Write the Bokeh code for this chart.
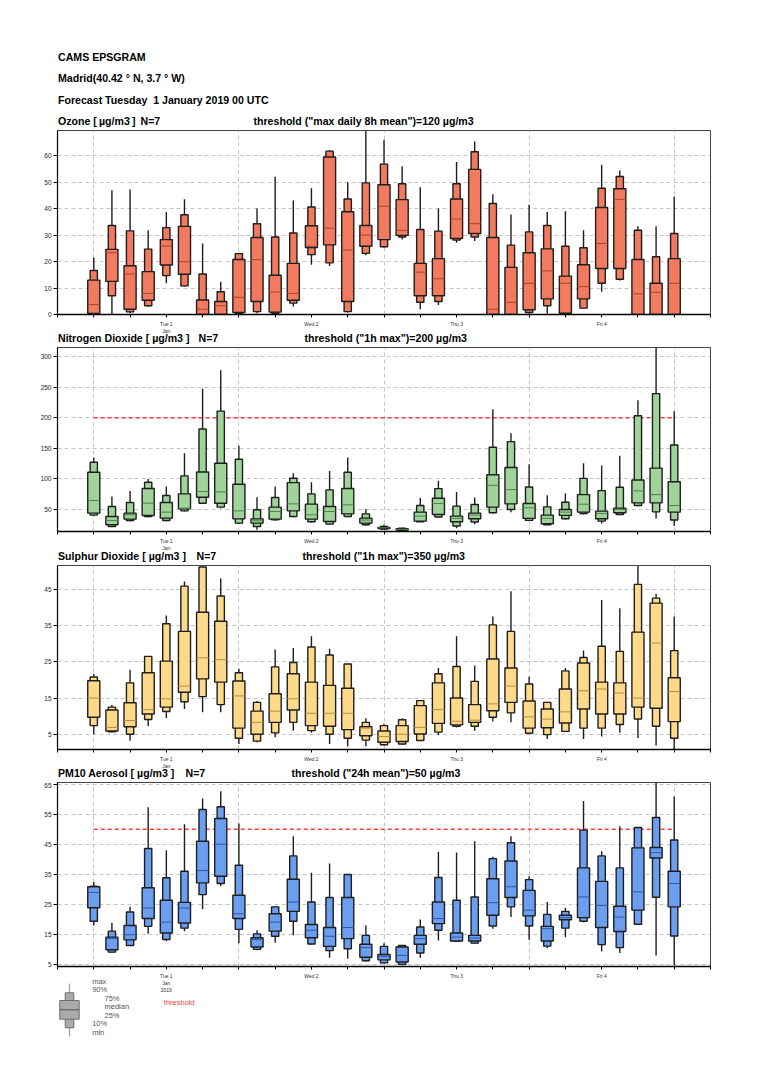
from bokeh.plotting import figure
from bokeh.layouts import column
from bokeh.models import Range1d, FixedTicker, ColumnDataSource
from bokeh.core.properties import value
from bokeh.embed import file_html
from bokeh.resources import INLINE

# ---------------- data (forecast step in hours from Tue 1 Jan 2019 00 UTC) -------------
hours = [0, 3, 6, 9, 12, 15, 18, 21, 24, 27, 30, 33, 36, 39, 42, 45, 48,
         51, 54, 57, 60, 63, 66, 69, 72, 75, 78, 81, 84, 87, 90, 93, 96]

day_ticks = [12, 36, 60, 84]
day_names = ["Tue 1", "Wed 2", "Thu 3", "Fri 4"]
month_label = "Jan"
year_label = "2019"

# Ozone
o3_min = [0, 0, 0.5, 3.0, 11.8, 10.5, 0, 0, 0, 0.5, 0.1, 3.0, 18.8, 18.3, 0.75, 22.4, 25.3,
          28.3, 2.0, 3.6, 27.1, 27.8, 0, 0, 0.25, 0.25, 0, 2.4, 8.6, 12.8, 0, 0, 0]
o3_p10 = [0.2, 7.1, 1.0, 3.3, 14.7, 10.8, 0, 0, 0.5, 1.1, 0.5, 4.3, 22.6, 19.5, 1.1, 23.1, 25.6,
          29.3, 4.6, 4.9, 28.1, 29.3, 0, 0, 0.75, 3.3, 0.2, 2.4, 11.8, 13.3, 0, 0, 0]
o3_p25 = [0.4, 12.5, 2.0, 5.4, 18.7, 15.2, 0, 0, 0.75, 4.9, 0.9, 5.4, 25.3, 26.3, 4.9, 25.8, 28.3,
          29.9, 7.1, 7.1, 28.7, 30.6, 0, 0, 1.8, 5.9, 0.5, 5.9, 17.4, 17.4, 0, 0, 0]
o3_med = [3.8, 23.3, 15.3, 8.0, 25.9, 19.9, 2.0, 3.3, 6.5, 20.7, 8.5, 8.0, 25.8, 32.6, 24.3, 30.0, 40.9,
          31.8, 16.0, 13.5, 36.1, 34.3, 2.0, 4.6, 11.8, 16.5, 11.8, 10.5, 26.8, 43.5, 7.8, 8.4, 11.8]
o3_p75 = [13.0, 24.6, 18.4, 16.2, 28.3, 33.3, 5.5, 4.9, 20.8, 29.1, 14.8, 19.3, 33.5, 59.5, 38.8, 33.6, 49.0,
          43.4, 19.3, 21.1, 43.6, 54.8, 29.1, 17.8, 23.3, 24.8, 14.5, 18.8, 40.4, 47.5, 20.8, 11.8, 21.1]
o3_p90 = [16.6, 33.6, 31.6, 24.7, 32.8, 37.7, 15.3, 8.6, 23.0, 34.3, 29.3, 30.8, 40.6, 61.7, 43.6, 49.7, 56.8,
          49.4, 32.1, 31.5, 49.4, 61.5, 41.9, 26.2, 31.2, 33.6, 25.8, 25.2, 47.7, 52.1, 31.8, 21.8, 30.6]
o3_max = [21.5, 46.9, 47.2, 31.8, 38.7, 43.5, 26.8, 12.4, 23.3, 40.0, 52.0, 43.1, 47.7, 62.0, 50.0, 69.4, 66.0,
          56.0, 48.1, 40.0, 57.6, 65.3, 45.4, 37.8, 41.5, 38.7, 39.0, 31.8, 56.6, 54.4, 33.3, 33.3, 44.6]

# Nitrogen dioxide
no2_min = [39, 20.5, 30.3, 36.9, 30.3, 46.1, 59.8, 51.6, 26, 16.1, 31.4, 36.9, 28, 24.3, 36.9, 23.2, 16.7,
           14, 28.8, 35.9, 18.5, 25, 42.9, 45, 30.4, 23.4, 33.1, 41.3, 26.6, 40.2, 54.9, 34.8, 22.3]
no2_p10 = [40.2, 21.6, 31.4, 38.0, 31.4, 47.2, 59.8, 53.3, 27, 21.6, 32.5, 38, 29.2, 25.4, 38, 24.3, 17.2,
           14.7, 29.3, 37, 22.3, 28.8, 44, 49.4, 31.5, 24.4, 34.2, 42.9, 30.4, 41.3, 56, 45.6, 32.1]
no2_p25 = [43.4, 24.3, 33.6, 39.6, 35.2, 50.5, 69.6, 59.8, 34.1, 27, 33.6, 47.2, 33.6, 29.8, 42.3, 27, 18.3,
           15.7, 30.4, 41.3, 29.3, 34.2, 53.3, 58.7, 34.8, 26.1, 39.7, 45.1, 34.2, 44, 60.3, 60.3, 45.1]
no2_med = [64.2, 31.4, 40.7, 59.8, 45.1, 51.6, 78.9, 78.4, 47.2, 30.9, 46.1, 58.7, 40.7, 46.1, 57.1, 32, 19.4,
           16.8, 38.6, 59.2, 34.8, 40.2, 89.1, 82.1, 52.2, 34.8, 45.1, 58.1, 42.9, 49.5, 79.9, 73.9, 56]
no2_p75 = [110.6, 38.0, 43.4, 83.8, 60.9, 75.1, 111.1, 125.3, 91, 34.1, 53.3, 93.6, 58.2, 54.3, 83.8, 35.2, 19.9,
           18, 45.1, 67.9, 38.6, 43.5, 106.5, 118.5, 59.2, 40.2, 49.5, 73.9, 46.7, 51.6, 97.8, 117.4, 95.1]
no2_p90 = [127, 54.3, 60.9, 94.2, 72.4, 104.6, 181.5, 211, 131.9, 48.9, 69, 100.8, 75.1, 81.7, 110.6, 42.3, 21.6,
           18.8, 56, 83.7, 54.9, 57.6, 151.6, 160.9, 86.4, 53.8, 61.4, 100.5, 80.4, 85.9, 203.3, 239.7, 155.4]
no2_max = [134.6, 70.7, 80, 99.7, 87.1, 141.7, 248.1, 278.2, 154.2, 69.6, 87.1, 108.9, 94.2, 112.8, 134.6, 50, 24.3,
           19.6, 68.5, 96.7, 78.3, 69.1, 214.1, 174.5, 123.9, 72.8, 75.5, 125.5, 121.7, 137.5, 228.8, 315, 210.9]

# Sulphur dioxide
so2_min = [5, 5.6, 3.2, 7.2, 9.4, 12, 11.1, 11.1, 2.3, 2.8, 4.2, 6, 5.4, 2.3, 1.6, 1.7, 1.9,
           2.1, 3.2, 4.8, 6.9, 6, 8.5, 8.3, 5.1, 3.7, 5.7, 3.7, 4.4, 5.4, 4, 1.9, 0.8]
so2_p10 = [7.4, 5.7, 5, 9.1, 11.3, 14, 15.4, 13.2, 3.9, 3.1, 5.4, 8.3, 6, 5, 3.9, 3.4, 2.1,
           2.3, 3.3, 5.6, 7.2, 7.2, 9.7, 10.9, 5.3, 4.9, 5.8, 6.7, 6.7, 7.7, 9.2, 7.2, 3.9]
so2_p25 = [9.7, 5.9, 7.1, 10.6, 12.5, 16.6, 20.3, 19.4, 6.7, 5, 8.3, 11.7, 7.4, 7.2, 6.3, 4.6, 2.8,
           3, 5.1, 8, 7.6, 8.3, 11.5, 13.8, 6.7, 6.8, 8.1, 12, 10.6, 10.6, 12.5, 12.2, 8.5]
so2_med = [15, 6.9, 8.8, 11.8, 14.8, 18.3, 26.1, 25.6, 15.6, 8.3, 11.4, 14.8, 10.8, 10.8, 10.8, 6.7, 4.4,
           5, 6.9, 11.8, 8.6, 8.9, 13.4, 18.3, 9.8, 9.2, 11.2, 17, 17.5, 16.4, 15, 30.2, 16.8]
so2_p75 = [19.8, 11.7, 13.7, 22, 25.2, 33.4, 38.7, 36.2, 19.7, 11.4, 16.2, 21.7, 19.4, 18.5, 17.7, 7.1, 5.9,
           7.4, 12.9, 19.2, 15, 13.2, 25.8, 23.3, 14.2, 12, 17.5, 24.7, 19.4, 19.2, 33.2, 41.2, 20.6]
so2_p90 = [20.8, 12.5, 19.2, 26.5, 35.5, 45.9, 51.2, 43.2, 22, 13.8, 23.6, 24.8, 29.1, 26.9, 24.4, 8.3, 7.4,
           9, 14.3, 21.7, 23.7, 19.6, 35.2, 33.4, 18.9, 13.8, 22.5, 26.2, 29.3, 27.9, 46.4, 42.6, 28.1]
so2_max = [21.7, 13.1, 22.8, 26.6, 37.8, 47.2, 51.3, 48, 23.1, 14.2, 28.4, 28.8, 32.1, 28.6, 24.5, 9.4, 7.9,
           9.4, 14.5, 23.3, 32.1, 24, 37.5, 44.5, 20.9, 13.9, 23.3, 28.1, 42.1, 39.8, 51.6, 43.8, 37.5]

# PM10 aerosol
pm_min = [17.9, 8.7, 11, 15.1, 12.6, 16, 23.3, 31.1, 12, 9.6, 12.1, 14.6, 11.5, 7.1, 6.8, 5.9, 5.1,
          4.6, 7.1, 12.9, 12.6, 11.8, 16.8, 20.7, 13.1, 10.4, 14, 19, 9.2, 8.7, 18.3, 7.9, 4.6]
pm_p10 = [19.3, 9, 11.2, 17.6, 13.2, 17, 28.2, 31.9, 16.6, 9.9, 14.3, 19.3, 11.7, 9.5, 10.1, 6.1, 5.4,
          4.9, 8.7, 16.3, 12.7, 12, 17.7, 24.1, 17.7, 11, 17, 19.3, 11.5, 10.5, 18.3, 27.3, 14.4]
pm_p25 = [23.8, 9.8, 13.1, 20.2, 15.4, 18.7, 32.1, 34.3, 20.2, 10.7, 16, 22.6, 13.8, 10.9, 13.5, 7.3, 6.4,
          5.7, 11.6, 18.5, 12.7, 12.7, 21.3, 27.2, 21.1, 12.7, 19.8, 20.5, 17.2, 15.9, 23, 40.4, 24.1]
pm_med = [28.9, 13.5, 14.8, 23.7, 19, 23.7, 36.2, 45, 21.8, 13.2, 19, 25.7, 16.3, 14.3, 17.2, 10.5, 7.6,
          7.9, 13.5, 20.2, 14, 13.7, 25.5, 30.8, 23, 16.8, 20.5, 27.4, 24.6, 20.7, 29.1, 42.2, 31.9]
pm_p75 = [30.8, 14, 17.9, 30.5, 26.3, 25.6, 46, 53.6, 28, 13.8, 21.8, 33.3, 18.2, 17.2, 27.2, 11.6, 8.2,
          10.7, 14.6, 25.7, 15.4, 14.6, 33.5, 39.4, 29.6, 17.6, 21.3, 37.1, 32.6, 24.3, 43.8, 43.9, 36]
pm_p90 = [31, 16, 22.4, 43.6, 33.8, 36, 56.6, 57.5, 38, 15.1, 24.1, 41.1, 25.7, 27.2, 34.9, 14.6, 10.9,
          11.2, 17.4, 33.9, 26.3, 27.4, 40.2, 45.5, 33.2, 21.6, 22.6, 49.7, 41.1, 37.1, 50.6, 53.9, 46.4]
pm_max = [32.4, 18.8, 24.1, 57.3, 43, 51.7, 60.3, 62.7, 51.9, 16.3, 24.2, 47.7, 35.5, 38.6, 35, 17.9, 12,
          11.3, 19.9, 42.5, 42.2, 46, 40.8, 47.7, 34.3, 25.7, 23.8, 59.4, 42.7, 51, 50.7, 65.6, 60.9]

# ---------------- layout constants (page pixels) ----------------
FONT = "Liberation Sans"
W = 720
FRAME_L, FRAME_R = 57, 710
X0, X1 = -6, 102
FH = 184          # frame height of each panel
BB = 4            # bottom border of a panel (tick marks only)
TEXT_L = 57.5     # left edge of the title texts
TS = "\u2009"     # thin space
NB = "\u00a0"     # no-break space


def px2h(px):
    return X0 + (px - FRAME_L) * (X1 - X0) / (FRAME_R - FRAME_L)


def strip(top, bottom):
    s = figure(width=W, height=bottom - top, x_range=Range1d(X0, X1),
               y_range=Range1d(bottom, top), output_backend="svg", toolbar_location=None,
               title_location=None, x_axis_location=None, y_axis_location=None,
               min_border_left=FRAME_L, min_border_right=W - FRAME_R, min_border_top=0,
               min_border_bottom=0)
    s.outline_line_color = None
    s.grid.visible = False
    s.background_fill_color = "white"
    s.border_fill_color = "white"
    return s


def bold_text(s, xs, ys, texts):
    s.text(x=[px2h(x) for x in xs], y=ys, text=texts, text_font=value(FONT),
           text_font_size="10.6px", text_font_style="bold", text_color="black",
           text_baseline="middle", text_align="left")


def day_text(s, frame_bottom, with_year=False):
    s.text(x=day_ticks, y=[frame_bottom + 9.3] * 4, text=day_names, text_font=value(FONT),
           text_font_size="5px", text_color="#333333", text_baseline="middle",
           text_align="center")
    extra = [(month_label, 16.2)] + ([(year_label, 23.8)] if with_year else [])
    for t, dy in extra:
        s.text(x=[day_ticks[0]], y=[frame_bottom + dy], text=[t], text_font=value(FONT),
               text_font_size="5px", text_color="#333333", text_baseline="middle",
               text_align="center")


def title_row(s, frame_top, title, n_x, thr_text, thr_x):
    y = frame_top - 9.6
    bold_text(s, [TEXT_L, n_x, thr_x], [y, y, y], [title, "N=7", thr_text])


def panel(yr, yticks, fill, medc, thr, mins, p10, p25, med, p75, p90, maxs):
    p = figure(width=W, height=FH + BB, x_range=Range1d(X0, X1), y_range=Range1d(*yr),
               output_backend="svg", toolbar_location=None, title_location=None,
               min_border_left=FRAME_L, min_border_right=W - FRAME_R, min_border_top=0,
               min_border_bottom=BB)
    p.background_fill_color = "white"
    p.border_fill_color = "white"
    p.outline_line_color = "#444444"
    p.outline_line_width = 1

    src = ColumnDataSource(dict(
        h=hours, mn=mins, p10=p10, p25=p25, med=med, p75=p75, p90=p90, mx=maxs,
        h0=[h - 1.0 for h in hours], h1=[h + 1.0 for h in hours]))

    if yr[0] < thr < yr[1]:
        p.line(x=[hours[0], hours[-1]], y=[thr, thr], line_color="#ff3b3b",
               line_dash="4 3", line_width=1.5)

    p.segment(x0="h", y0="mn", x1="h", y1="mx", source=src, line_color="#1e1e1e",
              line_width=1.4)
    p.vbar(x="h", width=1.2, bottom="p10", top="p90", source=src, fill_color=fill,
           line_color="#1e1e1e", line_width=1.4)
    p.vbar(x="h", width=2.0, bottom="p25", top="p75", source=src, fill_color=fill,
           line_color="#1e1e1e", line_width=1.4)
    p.segment(x0="h0", y0="med", x1="h1", y1="med", source=src, line_color=medc,
              line_width=1)

    xt = list(range(-6, 103, 6))
    p.xaxis.ticker = FixedTicker(ticks=xt, minor_ticks=[])
    p.xaxis.major_label_overrides = {t: "" for t in xt}
    p.xaxis.major_label_text_font_size = "0px"
    p.xaxis.major_label_standoff = 0
    p.xaxis.axis_line_width = 1.6
    p.xaxis.axis_line_color = "black"
    p.xaxis.major_tick_out = 3
    p.xaxis.major_tick_in = 0
    p.xaxis.major_tick_line_color = "black"

    p.yaxis.ticker = FixedTicker(ticks=yticks, minor_ticks=[])
    p.yaxis.axis_line_width = 1.2
    p.yaxis.axis_line_color = "black"
    p.yaxis.major_tick_out = 4
    p.yaxis.major_tick_in = 0
    p.yaxis.major_tick_line_color = "black"
    p.yaxis.major_label_text_font = FONT
    p.yaxis.major_label_text_font_size = "6.5px"
    p.yaxis.major_label_text_color = "#222222"
    p.yaxis.major_label_standoff = 2

    p.xgrid.ticker = FixedTicker(ticks=[0, 24, 48, 72, 96], minor_ticks=[])
    p.ygrid.ticker = FixedTicker(ticks=yticks, minor_ticks=[])
    for g in (p.xgrid, p.ygrid):
        g.grid_line_color = "#c4c4c4"
        g.grid_line_dash = "4 3"
        g.grid_line_width = 1
    return p


# page geometry
F1T = 130
F1B = F1T + FH
F2T = 347
F2B = F2T + FH
F3T = 565
F3B = F3T + FH
F4T = 782
F4B = F4T + FH
END = 1045

# header
h0 = strip(0, F1T)
bold_text(h0, [TEXT_L, TEXT_L, TEXT_L], [56, 77, 99],
          ["CAMS EPSGRAM", "Madrid(40.42 ° N, 3.7 ° W)",
           "Forecast Tuesday " + NB + "1 January 2019 00 UTC"])
title_row(h0, F1T, "Ozone [" + TS + "µg/m3" + TS + "]", 140,
          'threshold ("max daily 8h mean")=120 µg/m3', 253)

p1 = panel((0, 69.5), [0, 10, 20, 30, 40, 50, 60], "#f27b5f", "#a7442f", 120,
           o3_min, o3_p10, o3_p25, o3_med, o3_p75, o3_p90, o3_max)

s1 = strip(F1B + BB, F2T)
day_text(s1, F1B)
title_row(s1, F2T, "Nitrogen Dioxide [ µg/m3 ]", 198, 'threshold ("1h max")=200 µg/m3', 304)

p2 = panel((13.3, 315.4), [50, 100, 150, 200, 250, 300], "#9fd39a", "#4a8744", 200,
           no2_min, no2_p10, no2_p25, no2_med, no2_p75, no2_p90, no2_max)

s2 = strip(F2B + BB, F3T)
day_text(s2, F2B)
title_row(s2, F3T, "Sulphur Dioxide [ µg/m3 ]", 196, 'threshold ("1h max")=350 µg/m3', 302)

p3 = panel((0.8, 51.6), [5, 15, 25, 35, 45], "#fed98a", "#b58d3c", 350,
           so2_min, so2_p10, so2_p25, so2_med, so2_p75, so2_p90, so2_max)

s3 = strip(F3B + BB, F4T)
day_text(s3, F3B)
title_row(s3, F4T, "PM10 Aerosol [ µg/m3 ]", 185, 'threshold ("24h mean")=50 µg/m3', 291)

p4 = panel((4.2, 65.6), [5, 15, 25, 35, 45, 55, 65], "#6c9ef0", "#2d58a6", 50,
           pm_min, pm_p10, pm_p25, pm_med, pm_p75, pm_p90, pm_max)

# bottom strip: day labels of the last panel + box legend
s4 = strip(F4B + BB, END)
day_text(s4, F4B, with_year=True)

lx = 69
s4.segment(x0=[px2h(lx)], y0=[983], x1=[px2h(lx)], y1=[1036], line_color="#a8a8a8", line_width=1.4)
s4.quad(left=[px2h(64.7)], right=[px2h(73.3)], top=[992.3], bottom=[1027.3],
        fill_color="#aaaaaa", line_color="#6e6e6e", line_width=1)
s4.quad(left=[px2h(59.3)], right=[px2h(78.7)], top=[1000], bottom=[1018.7],
        fill_color="#aaaaaa", line_color="#6e6e6e", line_width=1)
s4.segment(x0=[px2h(59.3)], y0=[1009.3], x1=[px2h(78.7)], y1=[1009.3], line_color="#555555",
           line_width=1)
leg_txt = ["max", "90%", "75%", "median", "25%", "10%", "min"]
leg_x = [91.7, 91.7, 104, 104, 104, 91.7, 91.7]
leg_y = [980.7, 989, 997.7, 1006.3, 1015, 1023.3, 1032]
s4.text(x=[px2h(x) for x in leg_x], y=leg_y, text=leg_txt, text_font=value(FONT),
        text_font_size="7.5px", text_color="#555555", text_baseline="middle", text_align="left")
s4.text(x=[px2h(163.3)], y=[1001.7], text=["threshold"], text_font=value(FONT),
        text_font_size="7.5px", text_color="#ff3b3b", text_baseline="middle", text_align="left")

layout = column(h0, p1, s1, p2, s2, p3, s3, p4, s4, spacing=0)
open("out.html", "w").write(file_html(layout, INLINE))
